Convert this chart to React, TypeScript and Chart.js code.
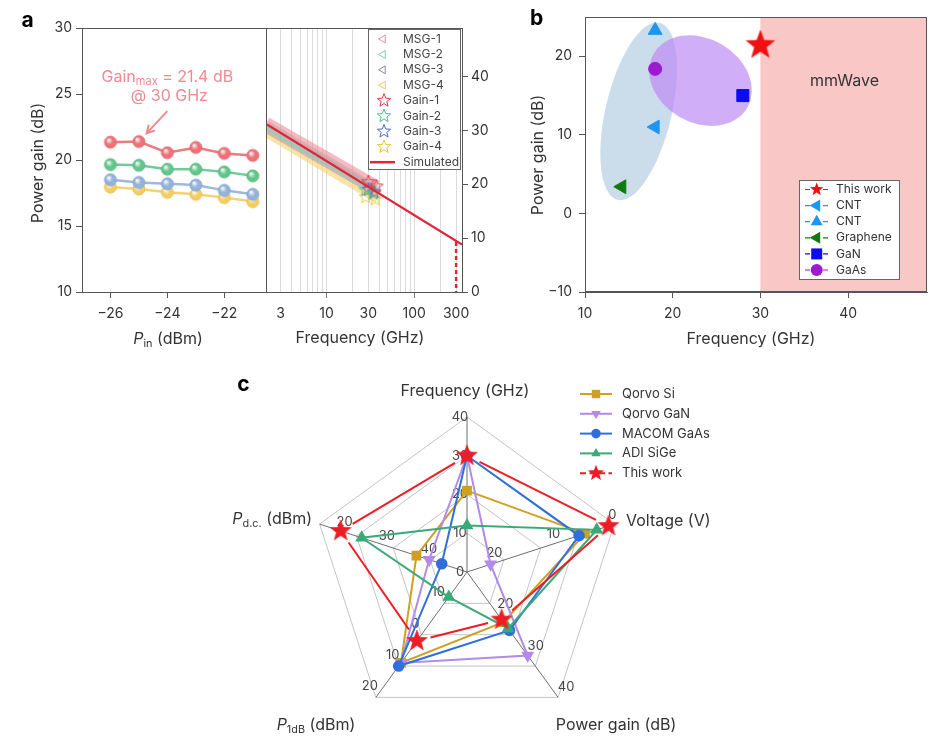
import React, { useEffect, useRef } from 'react';
import { Chart, registerables } from 'chart.js';

Chart.register(...registerables);

const FONT = 'Inter, "Noto Sans", "DejaVu Sans", sans-serif';
Chart.defaults.font.family = FONT;
Chart.defaults.font.size = 14;
Chart.defaults.color = '#333333';

const TXT = '#333333';
const AXIS = '#555555';
const ANNOT = '#ef8a94';

// ---------------- Panel a (left): power gain vs input power ----------------
const pinValues = [-26, -25, -24, -23, -22, -21];
const gainPin1 = [21.35, 21.4, 20.55, 20.95, 20.5, 20.35];
const gainPin2 = [19.65, 19.6, 19.3, 19.3, 19.1, 18.8];
const gainPin3 = [18.5, 18.3, 18.2, 18.1, 17.7, 17.4];
const gainPin4 = [17.95, 17.8, 17.55, 17.4, 17.15, 16.85];
const pinTicks = [-26, -24, -22];
const gainTicksLeft = [10, 15, 20, 25, 30];

// ---------------- Panel a (right): gain vs frequency ----------------
const freqTickLabels = [3, 10, 30, 100, 300];
const freqGrid = [3, 4, 5, 6, 7, 8, 9, 10, 20, 30, 40, 50, 60, 70, 80, 90, 100, 200, 300];
const gainTicksRight = [0, 10, 20, 30, 40];
const msgNames = ['MSG-1', 'MSG-2', 'MSG-3', 'MSG-4'];
const msgFreq = [2.1, 38];
const msg1 = [31.6, 19.9];
const msg2 = [30.9, 19.0];
const msg3 = [30.3, 18.5];
const msg4 = [29.5, 17.3];
const gainNames = ['Gain-1', 'Gain-2', 'Gain-3', 'Gain-4'];
const gainFreq1 = [30, 37];
const gainVal1 = [20.4, 19.6];
const gainFreq2 = [28, 34];
const gainVal2 = [18.9, 18.3];
const gainFreq3 = [30, 35];
const gainVal3 = [19.0, 18.5];
const gainFreq4 = [28, 36];
const gainVal4 = [17.6, 17.2];
const simName = 'Simulated';
const simFreq = [2.1, 350];
const simGain = [31.1, 8.8];
const cutoffFreq = [300, 300];
const cutoffGain = [9.3, 0];

// ---------------- Panel b: benchmark scatter ----------------
const bNames = ['This work', 'CNT', 'CNT', 'Graphene', 'GaN', 'GaAs'];
const bFreq = [30, 18, 18, 14.2, 28, 18];
const bGain = [21.4, 11, 23.3, 3.4, 15, 18.4];
const bTicksX = [10, 20, 30, 40];
const bTicksY = [-10, 0, 10, 20];
const mmWaveBand = [30, 49];

// ---------------- Panel c: radar ----------------
const radarAxes = ['Frequency (GHz)', 'Voltage (V)', 'Power gain (dB)', 'P1dB (dBm)', 'Pd.c. (dBm)'];
const axisCenter = [0, 25, 10, -20, 50];
const axisOuter = [40, 0, 40, 20, 15];
const radarTickValues = [[0, 10, 20, 30, 40], [0, 10, 20], [20, 30, 40], [-10, 0, 10, 20], [20, 30, 40]];
const radarTickText = [['0', '10', '20', '30', '40'], ['0', '10', '20'], ['20', '30', '40'], ['10', '0', '10', '20'], ['20', '30', '40']];
const radarNames = ['Qorvo Si', 'Qorvo GaN', 'MACOM GaAs', 'ADI SiGe', 'This work'];
const qorvoSi = [21, 5, 22, 9, 38];
const qorvoGaN = [30, 21, 30, 9, 41];
const macomGaAs = [30, 6, 24, 10, 44];
const adiSiGe = [12, 3, 23.5, -12, 25];
const thisWork = [30, 1, 21.4, 2, 20];
const radarSeries = [qorvoSi, qorvoGaN, macomGaAs, adiSiGe, thisWork];

// ---------------- helpers ----------------
const zip = (xs: number[], ys: number[]) => xs.map((x, i) => ({ x, y: ys[i] }));
const fmtTick = (v: any) => String(v).replace('-', '\u2212');
const setTicks = (arr: number[]) => (scale: any) => {
  scale.ticks = arr.map((v) => ({ value: v }));
};
const fixH = (h: number) => (s: any) => {
  s.height = h;
  s.paddingLeft = 0;
  s.paddingRight = 0;
};
const fixW = (w: number) => (s: any) => {
  s.width = w;
  s.paddingTop = 0;
  s.paddingBottom = 0;
};

function starPath(ctx: CanvasRenderingContext2D, cx: number, cy: number, R: number, r: number) {
  ctx.beginPath();
  for (let i = 0; i < 10; i++) {
    const rad = i % 2 === 0 ? R : r;
    const a = -Math.PI / 2 + (i * Math.PI) / 5;
    const x = cx + rad * Math.cos(a);
    const y = cy + rad * Math.sin(a);
    if (i === 0) ctx.moveTo(x, y);
    else ctx.lineTo(x, y);
  }
  ctx.closePath();
}

function makeStar(R: number, fill: string | null, stroke: string, lw: number) {
  const pad = Math.ceil(lw) + 2;
  const size = Math.ceil(2 * R + 2 * pad);
  const c = document.createElement('canvas');
  c.width = size;
  c.height = size;
  const g = c.getContext('2d')!;
  starPath(g, size / 2, size / 2, R, R * 0.42);
  if (fill) {
    g.fillStyle = fill;
    g.fill();
  }
  if (lw > 0) {
    g.lineWidth = lw;
    g.strokeStyle = stroke;
    g.stroke();
  }
  return c;
}

function makeBall(r: number, color: string, edge: string) {
  const s = Math.ceil(2 * r + 4);
  const c = document.createElement('canvas');
  c.width = s;
  c.height = s;
  const g = c.getContext('2d')!;
  const cx = s / 2;
  const cy = s / 2;
  const grad = g.createRadialGradient(cx - r * 0.35, cy - r * 0.4, r * 0.05, cx, cy, r);
  grad.addColorStop(0, 'rgba(255,255,255,0.95)');
  grad.addColorStop(0.55, color);
  grad.addColorStop(1, color);
  g.beginPath();
  g.arc(cx, cy, r, 0, Math.PI * 2);
  g.fillStyle = grad;
  g.fill();
  g.lineWidth = 1;
  g.strokeStyle = edge;
  g.stroke();
  return c;
}

function drawMarker(ctx: CanvasRenderingContext2D, kind: string, x: number, y: number, r: number, color: string, opts: any = {}) {
  ctx.save();
  ctx.fillStyle = color;
  ctx.strokeStyle = color;
  ctx.lineWidth = opts.lw ?? 1;
  ctx.beginPath();
  if (kind === 'circle') ctx.arc(x, y, r, 0, Math.PI * 2);
  else if (kind === 'square') ctx.rect(x - r, y - r, 2 * r, 2 * r);
  else if (kind === 'star') starPath(ctx, x, y, r, r * 0.42);
  else {
    const rot = ((opts.rot || 0) * Math.PI) / 180;
    for (let k = 0; k < 3; k++) {
      const a = rot - Math.PI / 2 + (k * 2 * Math.PI) / 3;
      const px = x + r * Math.cos(a);
      const py = y + r * Math.sin(a);
      if (k === 0) ctx.moveTo(px, py);
      else ctx.lineTo(px, py);
    }
    ctx.closePath();
  }
  if (opts.hollow) ctx.stroke();
  else ctx.fill();
  ctx.restore();
}

function drawRich(ctx: CanvasRenderingContext2D, segs: any[], x: number, y: number, size: number, color: string, align: string) {
  const f = (s: any) => `${s.italic ? 'italic ' : ''}${s.sub ? Math.round(size * 0.68) : size}px ${FONT}`;
  let w = 0;
  segs.forEach((s) => {
    ctx.font = f(s);
    w += ctx.measureText(s.t).width;
  });
  let cx = align === 'left' ? x : align === 'right' ? x - w : x - w / 2;
  ctx.fillStyle = color;
  ctx.textAlign = 'left';
  ctx.textBaseline = 'middle';
  segs.forEach((s) => {
    ctx.font = f(s);
    ctx.fillText(s.t, cx, s.sub ? y + size * 0.32 : y);
    cx += ctx.measureText(s.t).width;
  });
}

const baseOpts = {
  responsive: false,
  animation: false,
  events: [],
};
const noPlugins = { legend: { display: false }, tooltip: { enabled: false } };

// ---------------- Panel a-left ----------------
function configALeft() {
  const ballColors = ['#ec7277', '#63c68b', '#93b3dc', '#f4cd62'];
  const ballEdges = ['#e06a70', '#5ab981', '#86a6d2', '#e9c055'];
  const lineColors = ['#ea7b80', '#74c99a', '#9db9de', '#f2d178'];
  const series = [gainPin1, gainPin2, gainPin3, gainPin4];
  const decor = {
    id: 'aLeftDecor',
    afterDraw(chart: any) {
      const { ctx, chartArea: ca, scales } = chart;
      ctx.save();
      ctx.strokeStyle = AXIS;
      ctx.lineWidth = 1;
      ctx.beginPath();
      ctx.moveTo(ca.left, ca.top + 0.5);
      ctx.lineTo(ca.right, ca.top + 0.5);
      ctx.moveTo(ca.right - 0.5, ca.top);
      ctx.lineTo(ca.right - 0.5, ca.bottom);
      ctx.stroke();
      const xs = scales.x;
      const ys = scales.y;
      const tx = xs.getPixelForValue(-24.02);
      const ty = ys.getPixelForValue(23.66);
      const hx = xs.getPixelForValue(-24.73);
      const hy = ys.getPixelForValue(22.02);
      ctx.strokeStyle = ANNOT;
      ctx.lineWidth = 2;
      ctx.lineCap = 'round';
      ctx.beginPath();
      ctx.moveTo(tx, ty);
      ctx.lineTo(hx, hy);
      const ang = Math.atan2(hy - ty, hx - tx);
      const L = 8;
      ctx.moveTo(hx - L * Math.cos(ang - 0.5), hy - L * Math.sin(ang - 0.5));
      ctx.lineTo(hx, hy);
      ctx.lineTo(hx - L * Math.cos(ang + 0.5), hy - L * Math.sin(ang + 0.5));
      ctx.stroke();
      drawRich(ctx, [{ t: 'Gain' }, { t: 'max', sub: true }, { t: ' = 21.4 dB' }], xs.getPixelForValue(-24.0), ys.getPixelForValue(26.29), 16, ANNOT, 'center');
      drawRich(ctx, [{ t: '@ 30 GHz' }], xs.getPixelForValue(-23.93), ys.getPixelForValue(24.8), 16, ANNOT, 'center');
      ctx.restore();
    },
  };
  return {
    type: 'scatter',
    data: {
      datasets: series.map((s, i) => ({
        data: zip(pinValues, s),
        showLine: true,
        borderColor: lineColors[i],
        borderWidth: 2.5,
        pointStyle: makeBall(6, ballColors[i], ballEdges[i]),
        pointRadius: 6,
        clip: false,
        order: i,
      })),
    },
    options: {
      ...baseOpts,
      layout: { autoPadding: false, padding: { left: 0, right: 1, top: 28, bottom: 0 } },
      plugins: noPlugins,
      scales: {
        x: {
          type: 'linear',
          min: -27,
          max: -20.5,
          afterBuildTicks: setTicks(pinTicks),
          afterFit: fixH(68),
          grid: { drawOnChartArea: false, drawTicks: true, tickLength: 6, color: AXIS },
          border: { display: true, color: AXIS, width: 1 },
          ticks: { callback: fmtTick, padding: 7, maxRotation: 0, autoSkip: false, color: TXT },
        },
        y: {
          type: 'linear',
          min: 10,
          max: 30,
          afterBuildTicks: setTicks(gainTicksLeft),
          afterFit: fixW(82),
          grid: { drawOnChartArea: false, drawTicks: true, tickLength: 6, color: AXIS },
          border: { display: true, color: AXIS, width: 1 },
          ticks: { callback: fmtTick, padding: 4, autoSkip: false, color: TXT },
        },
      },
    },
    plugins: [decor],
  };
}

// ---------------- Panel a-right ----------------
function configARight() {
  const msgColors = ['rgba(240,130,145,0.55)', 'rgba(140,205,175,0.55)', 'rgba(150,150,190,0.5)', 'rgba(248,206,105,0.6)'];
  const msgLegendColors = ['#f08a9a', '#86c9ad', '#8a8aa8', '#f3c968'];
  const gainColors = ['#e23a4a', '#56c08a', '#4a6ec8', '#f2c640'];
  const SIM = '#e0253a';
  const msgs = [msg1, msg2, msg3, msg4];
  const gf = [gainFreq1, gainFreq2, gainFreq3, gainFreq4];
  const gv = [gainVal1, gainVal2, gainVal3, gainVal4];
  const datasets: any[] = [];
  datasets.push({
    data: zip(simFreq, simGain),
    showLine: true,
    borderColor: SIM,
    borderWidth: 2.2,
    pointRadius: 0,
    clip: 0,
    order: 0,
  });
  datasets.push({
    data: zip(cutoffFreq, cutoffGain),
    showLine: true,
    borderColor: SIM,
    borderWidth: 2.5,
    borderDash: [4, 3],
    pointRadius: 0,
    clip: 0,
    order: 0,
  });
  gf.forEach((f, i) => {
    datasets.push({
      data: zip(f, gv[i]),
      showLine: false,
      pointStyle: makeStar(7, null, gainColors[i], 1),
      pointRadius: 7,
      clip: false,
      order: 1,
    });
  });
  msgs.forEach((m, i) => {
    datasets.push({
      data: zip(msgFreq, m),
      showLine: true,
      borderColor: msgColors[i],
      borderWidth: 9,
      pointRadius: 0,
      clip: 0,
      order: 2 + i,
    });
  });
  const decor = {
    id: 'aRightDecor',
    afterDraw(chart: any) {
      const { ctx, chartArea: ca } = chart;
      ctx.save();
      ctx.strokeStyle = AXIS;
      ctx.lineWidth = 1;
      ctx.beginPath();
      ctx.moveTo(ca.left, ca.top + 0.5);
      ctx.lineTo(ca.right, ca.top + 0.5);
      ctx.stroke();
      // legend box
      const bx = 101;
      const by = 29;
      const bw = 92;
      const bh = 140;
      ctx.fillStyle = '#ffffff';
      ctx.fillRect(bx, by, bw, bh);
      ctx.strokeStyle = '#666666';
      ctx.strokeRect(bx + 0.5, by + 0.5, bw, bh);
      const rows: any[] = [];
      msgNames.forEach((n, i) => rows.push({ label: n, kind: 'tri', color: msgLegendColors[i] }));
      gainNames.forEach((n, i) => rows.push({ label: n, kind: 'star', color: gainColors[i] }));
      rows.push({ label: simName, kind: 'line', color: SIM });
      rows.forEach((r, i) => {
        const y = 39 + 15.4 * i;
        if (r.kind === 'tri') drawMarker(ctx, 'triangle', 116, y, 4.5, r.color, { rot: -90, hollow: true, lw: 1 });
        else if (r.kind === 'star') drawMarker(ctx, 'star', 117, y, 7, r.color, { hollow: true, lw: 1 });
        else {
          ctx.strokeStyle = r.color;
          ctx.lineWidth = 2.5;
          ctx.beginPath();
          ctx.moveTo(103, y);
          ctx.lineTo(128, y);
          ctx.stroke();
        }
        ctx.fillStyle = '#444444';
        ctx.font = `12px ${FONT}`;
        ctx.textAlign = 'left';
        ctx.textBaseline = 'middle';
        ctx.fillText(r.label, 136, y);
      });
      ctx.restore();
    },
  };
  return {
    type: 'scatter',
    data: { datasets },
    options: {
      ...baseOpts,
      layout: { autoPadding: false, padding: { left: 0, right: 0, top: 28, bottom: 0 } },
      plugins: noPlugins,
      scales: {
        x: {
          type: 'logarithmic',
          min: 2.1,
          max: 350,
          afterBuildTicks: setTicks(freqGrid),
          afterFit: fixH(68),
          grid: {
            color: '#d2d2d2',
            lineWidth: 0.8,
            drawTicks: true,
            tickLength: 6,
            tickColor: (c: any) => (c.tick && (c.tick.value === 10 || c.tick.value === 100) ? AXIS : 'rgba(0,0,0,0)'),
          },
          border: { display: true, color: AXIS, width: 1 },
          ticks: {
            callback: (v: any) => (freqTickLabels.includes(Number(v)) ? String(v) : ''),
            padding: 7,
            maxRotation: 0,
            autoSkip: false,
            color: TXT,
          },
        },
        y: {
          type: 'linear',
          position: 'right',
          min: 0,
          max: 49,
          afterBuildTicks: setTicks(gainTicksRight),
          afterFit: fixW(35),
          grid: { drawOnChartArea: false, drawTicks: true, tickLength: 6, color: AXIS },
          border: { display: true, color: AXIS, width: 1 },
          ticks: { padding: 3, autoSkip: false, color: TXT },
        },
      },
    },
    plugins: [decor],
  };
}

// ---------------- Panel b ----------------
function configB() {
  const colors = ['#f01010', '#1e96f0', '#1e96f0', '#127a12', '#0c0cee', '#9b1bd0'];
  const star = makeStar(15, '#f01010', '#f01010', 0.5);
  const styles: any[] = [star, 'triangle', 'triangle', 'triangle', 'rect', 'circle'];
  const rots = [0, -90, 0, -90, 0, 0];
  const radii = [15, 8, 8, 8, 8.5, 6.5];
  const legendKinds = ['star', 'triangle', 'triangle', 'triangle', 'square', 'circle'];
  const legendSizes = [7, 7, 7, 7, 5.5, 6];
  const ellipses = [
    { cx: 16.12, cy: 13.0, rx: 33, ry: 91, rot: 13.3, color: 'rgba(168,196,222,0.6)' },
    { cx: 23.17, cy: 16.9, rx: 54, ry: 42, rot: 30, color: 'rgba(190,140,245,0.7)' },
  ];
  const decor = {
    id: 'bDecor',
    beforeDatasetsDraw(chart: any) {
      const { ctx, chartArea: ca, scales } = chart;
      const xs = scales.x;
      const ys = scales.y;
      ctx.save();
      ctx.beginPath();
      ctx.rect(ca.left, ca.top, ca.right - ca.left, ca.bottom - ca.top);
      ctx.clip();
      const x0 = xs.getPixelForValue(mmWaveBand[0]);
      const x1 = xs.getPixelForValue(mmWaveBand[1]);
      ctx.fillStyle = '#fac7c7';
      ctx.fillRect(x0, ca.top, x1 - x0, ca.bottom - ca.top);
      ellipses.forEach((e) => {
        ctx.beginPath();
        ctx.ellipse(xs.getPixelForValue(e.cx), ys.getPixelForValue(e.cy), e.rx, e.ry, (e.rot * Math.PI) / 180, 0, Math.PI * 2);
        ctx.fillStyle = e.color;
        ctx.fill();
      });
      ctx.fillStyle = TXT;
      ctx.font = `16px ${FONT}`;
      ctx.textAlign = 'center';
      ctx.textBaseline = 'middle';
      ctx.fillText('mmWave', xs.getPixelForValue(39.6), ys.getPixelForValue(16.8));
      ctx.restore();
    },
    afterDraw(chart: any) {
      const { ctx, chartArea: ca } = chart;
      ctx.save();
      ctx.strokeStyle = AXIS;
      ctx.lineWidth = 1;
      ctx.strokeRect(ca.left + 0.5, ca.top + 0.5, ca.right - ca.left - 1, ca.bottom - ca.top - 1);
      // legend
      const bx = 319.5;
      const by = 180.5;
      const bw = 100;
      const bh = 99;
      ctx.fillStyle = '#ffffff';
      ctx.fillRect(bx, by, bw, bh);
      ctx.strokeStyle = '#666666';
      ctx.strokeRect(bx, by, bw, bh);
      bNames.forEach((n, i) => {
        const y = 189.5 + 16.1 * i;
        ctx.strokeStyle = colors[i];
        ctx.lineWidth = 1.2;
        ctx.beginPath();
        ctx.moveTo(325, y);
        ctx.lineTo(330, y);
        ctx.moveTo(343, y);
        ctx.lineTo(348, y);
        ctx.stroke();
        drawMarker(ctx, legendKinds[i], 336.7, y, legendSizes[i], colors[i], { rot: rots[i] });
        ctx.fillStyle = TXT;
        ctx.font = `12px ${FONT}`;
        ctx.textAlign = 'left';
        ctx.textBaseline = 'middle';
        ctx.fillText(n, 356, y);
      });
      ctx.restore();
    },
  };
  return {
    type: 'scatter',
    data: {
      datasets: bFreq.map((f, i) => ({
        data: [{ x: f, y: bGain[i] }],
        showLine: false,
        pointStyle: styles[i],
        pointRadius: radii[i],
        pointRotation: rots[i],
        pointBackgroundColor: colors[i],
        pointBorderColor: colors[i],
        pointBorderWidth: 1,
        clip: false,
        order: i,
      })),
    },
    options: {
      ...baseOpts,
      layout: { autoPadding: false, padding: { left: 0, right: 14, top: 17, bottom: 0 } },
      plugins: noPlugins,
      scales: {
        x: {
          type: 'linear',
          min: 10,
          max: 49,
          afterBuildTicks: setTicks(bTicksX),
          afterFit: fixH(68),
          grid: { drawOnChartArea: false, drawTicks: true, tickLength: 6, color: AXIS },
          border: { display: true, color: AXIS, width: 1 },
          ticks: { callback: fmtTick, padding: 7, maxRotation: 0, autoSkip: false, color: TXT },
        },
        y: {
          type: 'linear',
          min: -10,
          max: 25,
          afterBuildTicks: setTicks(bTicksY),
          afterFit: fixW(105),
          grid: { drawOnChartArea: false, drawTicks: true, tickLength: 6, color: AXIS },
          border: { display: true, color: AXIS, width: 1 },
          ticks: { callback: fmtTick, padding: 7, autoSkip: false, color: TXT },
        },
      },
    },
    plugins: [decor],
  };
}

// ---------------- Panel c ----------------
const normalize = (vals: number[]) => vals.map((v, i) => (v - axisCenter[i]) / (axisOuter[i] - axisCenter[i]));

function configC() {
  const colors = ['#cfa020', '#b38be6', '#2f6fdc', '#3aaa78', '#ee1c25'];
  const star = makeStar(11, '#ee1c25', '#ee1c25', 0.5);
  const styles: any[] = ['rect', 'triangle', 'circle', 'triangle', star];
  const rots = [0, 180, 0, 0, 0];
  const radii = [5.5, 5.5, 4.8, 5.5, 11];
  const legendKinds = ['square', 'triangle', 'circle', 'triangle', 'star'];
  const legendSizes = [4.2, 5.5, 4.8, 5.5, 8.5];
  const offsets = [[-7, 0], [-2, -9], [8, -10], [-6, -11], [4, -9]];
  const gappedIdx = radarNames.length - 1; // "This work": line stops short of its star markers
  const GAP = 14;
  const decor = {
    id: 'cDecor',
    beforeDatasetsDraw(chart: any) {
      const { ctx } = chart;
      const r = chart.scales.r;
      ctx.save();
      ctx.fillStyle = '#444444';
      ctx.font = `13px ${FONT}`;
      ctx.textAlign = 'center';
      ctx.textBaseline = 'middle';
      radarTickValues.forEach((vals, a) => {
        vals.forEach((v, k) => {
          const frac = (v - axisCenter[a]) / (axisOuter[a] - axisCenter[a]);
          const p = r.getPointPosition(a, r.getDistanceFromCenterForValue(frac));
          ctx.fillText(radarTickText[a][k], p.x + offsets[a][0], p.y + offsets[a][1]);
        });
      });
      ctx.restore();
    },
    beforeDatasetDraw(chart: any, args: any) {
      if (args.index !== gappedIdx) return;
      const pts = args.meta.data;
      const { ctx } = chart;
      ctx.save();
      ctx.strokeStyle = colors[gappedIdx];
      ctx.lineWidth = 2;
      ctx.beginPath();
      for (let i = 0; i < pts.length; i++) {
        const p0 = pts[i];
        const p1 = pts[(i + 1) % pts.length];
        const dx = p1.x - p0.x;
        const dy = p1.y - p0.y;
        const L = Math.hypot(dx, dy);
        if (L <= 2 * GAP) continue;
        const ux = dx / L;
        const uy = dy / L;
        ctx.moveTo(p0.x + ux * GAP, p0.y + uy * GAP);
        ctx.lineTo(p1.x - ux * GAP, p1.y - uy * GAP);
      }
      ctx.stroke();
      ctx.restore();
    },
    afterDraw(chart: any) {
      const { ctx } = chart;
      ctx.save();
      radarNames.forEach((n, i) => {
        const y = 24 + 19.8 * i;
        ctx.strokeStyle = colors[i];
        ctx.lineWidth = 2;
        if (i === gappedIdx) ctx.setLineDash([6, 3.5]);
        else ctx.setLineDash([]);
        ctx.beginPath();
        ctx.moveTo(360, y);
        ctx.lineTo(392, y);
        ctx.stroke();
        ctx.setLineDash([]);
        drawMarker(ctx, legendKinds[i], 376, y, legendSizes[i], colors[i], { rot: rots[i] });
        ctx.fillStyle = TXT;
        ctx.font = `13px ${FONT}`;
        ctx.textAlign = 'left';
        ctx.textBaseline = 'middle';
        ctx.fillText(n, 402, y);
      });
      ctx.restore();
    },
  };
  return {
    type: 'radar',
    data: {
      labels: radarAxes,
      datasets: radarSeries.map((vals, i) => ({
        label: radarNames[i],
        data: normalize(vals),
        borderColor: colors[i],
        backgroundColor: colors[i],
        pointBackgroundColor: colors[i],
        pointBorderColor: colors[i],
        borderWidth: i === gappedIdx ? 0 : 2,
        pointStyle: styles[i],
        pointRadius: radii[i],
        pointRotation: rots[i],
        fill: false,
        tension: 0,
        clip: false,
        order: radarNames.length - 1 - i,
      })),
    },
    options: {
      ...baseOpts,
      layout: { autoPadding: false, padding: { left: 92, top: 47, right: 98, bottom: 18 } },
      plugins: noPlugins,
      scales: {
        r: {
          min: 0,
          max: 1,
          beginAtZero: true,
          ticks: { display: false, stepSize: 0.25 },
          grid: { color: '#c4c4c4', lineWidth: 1 },
          angleLines: { color: '#6e6e6e', lineWidth: 1 },
          pointLabels: { display: false },
        },
      },
    },
    plugins: [decor],
  };
}

// ---------------- React ----------------
function ChartBox({ x, y, w, h, make }: { x: number; y: number; w: number; h: number; make: () => any }) {
  const ref = useRef<HTMLCanvasElement>(null);
  useEffect(() => {
    const chart = new Chart(ref.current as HTMLCanvasElement, make());
    return () => chart.destroy();
  }, []);
  return <canvas ref={ref} width={w} height={h} style={{ position: 'absolute', left: x, top: y, width: w, height: h }} />;
}

function Txt({ x, y, ax = 'c', rot = false, size = 16, bold = false, children }: any) {
  const tx = ax === 'l' ? '0' : ax === 'r' ? '-100%' : '-50%';
  return (
    <div
      style={{
        position: 'absolute',
        left: x,
        top: y,
        transform: `translate(${tx},-50%)${rot ? ' rotate(-90deg)' : ''}`,
        fontFamily: FONT,
        fontSize: size,
        fontWeight: bold ? 700 : 400,
        color: bold ? '#000' : TXT,
        whiteSpace: 'nowrap',
        lineHeight: 1.2,
      }}
    >
      {children}
    </div>
  );
}

const subStyle: any = { fontSize: '0.68em', verticalAlign: 'baseline', position: 'relative', top: '0.3em', lineHeight: 0 };

export default function App() {
  return (
    <div style={{ position: 'absolute', left: 0, top: 0, width: 941, height: 745, background: '#ffffff', overflow: 'hidden' }}>
      <ChartBox x={0} y={0} w={268} h={360} make={configALeft} />
      <ChartBox x={267} y={0} w={230} h={360} make={configARight} />
      <ChartBox x={480} y={0} w={461} h={360} make={configB} />
      <ChartBox x={220} y={370} w={500} h={375} make={configC} />

      <Txt x={27.5} y={20} size={21} bold>a</Txt>
      <Txt x={536.5} y={18} size={21} bold>b</Txt>
      <Txt x={243.5} y={384} size={21} bold>c</Txt>

      <Txt x={38} y={163} rot size={16}>Power gain (dB)</Txt>
      <Txt x={168} y={339} size={16}>
        <i>P</i>
        <span style={subStyle}>in</span> (dBm)
      </Txt>
      <Txt x={360} y={338} size={16}>Frequency (GHz)</Txt>

      <Txt x={538} y={155} rot size={16}>Power gain (dB)</Txt>
      <Txt x={751} y={339} size={16}>Frequency (GHz)</Txt>

      <Txt x={465} y={391} size={16}>Frequency (GHz)</Txt>
      <Txt x={626} y={521} ax="l" size={16}>Voltage (V)</Txt>
      <Txt x={616} y={725} size={16}>Power gain (dB)</Txt>
      <Txt x={316} y={725} size={16}>
        <i>P</i>
        <span style={subStyle}>1dB</span> (dBm)
      </Txt>
      <Txt x={312} y={519} ax="r" size={16}>
        <i>P</i>
        <span style={subStyle}>d.c.</span> (dBm)
      </Txt>
    </div>
  );
}
